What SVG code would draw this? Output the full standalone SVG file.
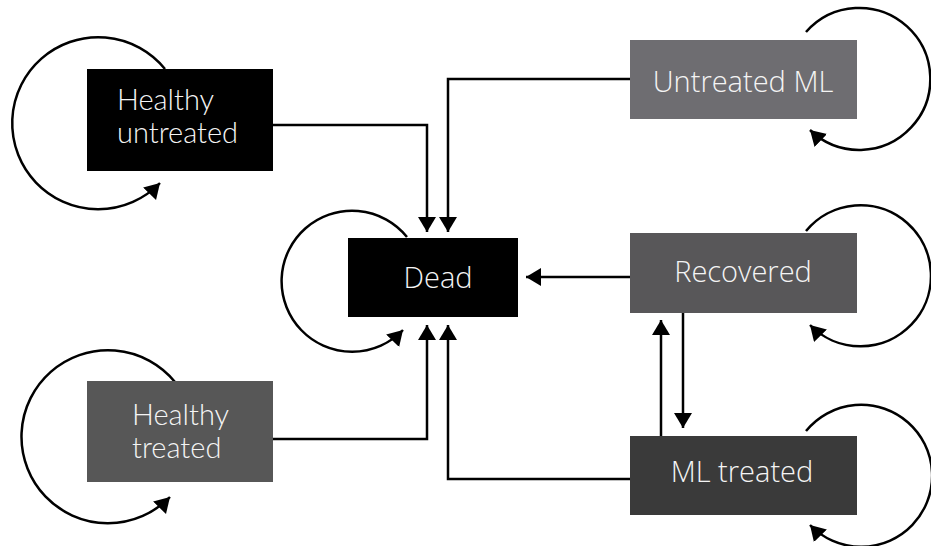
<svg xmlns="http://www.w3.org/2000/svg" width="931" height="546" viewBox="0 0 931 546">
<style>
.lbl{font-family:"Open Sans","Liberation Sans",sans-serif;font-weight:300;font-size:29px;fill:#f4f4f4}
.lblh{font-family:Lato,"Open Sans","Liberation Sans",sans-serif;font-weight:300;font-size:29px;fill:#f4f4f4}
.c{fill:none;stroke:#000;stroke-width:2.5}
</style>
<defs>
<marker id="ah" markerUnits="userSpaceOnUse" markerWidth="20" markerHeight="20" refX="15" refY="9" orient="auto">
<path d="M0,0 L15,9 L0,18 Z" fill="#000"/>
</marker>
</defs>
<rect width="931" height="546" fill="#fff"/>
<g id="connectors">
<path class="c" d="M273,125 H427 V232" marker-end="url(#ah)"/>
<path class="c" d="M630,79 H448 V232" marker-end="url(#ah)"/>
<path class="c" d="M630,277 H526" marker-end="url(#ah)"/>
<path class="c" d="M273,439 H427 V325" marker-end="url(#ah)"/>
<path class="c" d="M630,479 H448 V325" marker-end="url(#ah)"/>
<path class="c" d="M683,313 V428" marker-end="url(#ah)"/>
<path class="c" d="M661,436 V320" marker-end="url(#ah)"/>
<path class="c" d="M165,69 A86,86 0 1 0 160,183" marker-end="url(#ah)"/>
<path class="c" d="M175,382 A86.5,86.5 0 1 0 170,497" marker-end="url(#ah)"/>
<path class="c" d="M407,237 A70.5,70.5 0 1 0 403,330" marker-end="url(#ah)"/>
<path class="c" d="M806,32 A71,71 0 1 1 810,130" marker-end="url(#ah)"/>
<path class="c" d="M806,231 A70.5,70.5 0 1 1 810,325" marker-end="url(#ah)"/>
<path class="c" d="M806,431 A71,71 0 1 1 810,525" marker-end="url(#ah)"/>
</g>
<g id="healthy-untreated">
<rect x="87" y="69" width="186" height="102" fill="#000"/>
<text class="lblh" x="117" y="110">Healthy</text>
<text class="lblh" x="117" y="143">untreated</text>
</g>
<g id="healthy-treated">
<rect x="87" y="381" width="186" height="101" fill="#575757"/>
<text class="lblh" x="132" y="425">Healthy</text>
<text class="lblh" x="132" y="458">treated</text>
</g>
<g id="dead">
<rect x="348" y="238" width="170" height="79" fill="#000"/>
<text class="lbl" x="438" y="288" text-anchor="middle">Dead</text>
</g>
<g id="untreated-ml">
<rect x="630" y="40" width="227" height="79" fill="#6e6d71"/>
<text class="lbl" x="743" y="92" text-anchor="middle">Untreated ML</text>
</g>
<g id="recovered">
<rect x="630" y="233" width="227" height="80" fill="#585759"/>
<text class="lbl" x="743" y="282" text-anchor="middle">Recovered</text>
</g>
<g id="ml-treated">
<rect x="630" y="436" width="227" height="79" fill="#3a3a3a"/>
<text class="lbl" x="742" y="482" text-anchor="middle">ML treated</text>
</g>
</svg>
